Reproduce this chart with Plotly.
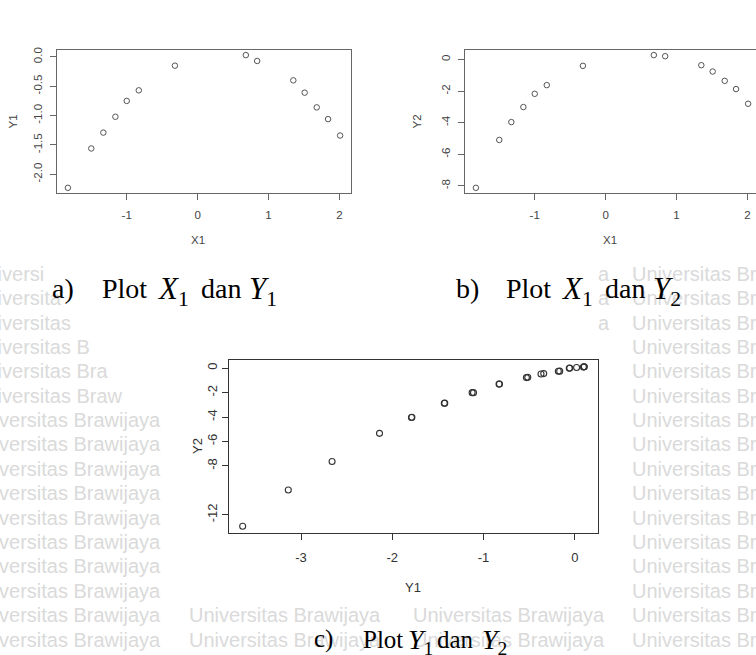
import plotly.graph_objects as go

# ---------------- data ----------------
x1_vals = [-1.83, -1.50, -1.33, -1.16, -1.00, -0.83, -0.32, 0.68, 0.84, 1.35, 1.51, 1.68, 1.84, 2.01]
y1_vals = [-2.23, -1.56, -1.29, -1.02, -0.75, -0.57, -0.15, 0.03, -0.07, -0.40, -0.61, -0.86, -1.06, -1.34]
y2_vals = [-8.12, -5.09, -3.96, -3.01, -2.17, -1.62, -0.40, 0.28, 0.21, -0.36, -0.76, -1.35, -1.87, -2.80]

c_y1 = [-3.64, -3.14, -2.66, -2.14, -1.79, -1.785, -1.43, -1.425, -1.125, -1.11,
        -0.83, -0.825, -0.53, -0.515, -0.37, -0.34, -0.18, -0.165, -0.06, -0.055,
        0.02, 0.095, 0.10, 0.105]
c_y2 = [-12.93, -9.97, -7.64, -5.33, -4.03, -4.02, -2.87, -2.86, -2.00, -2.00,
        -1.30, -1.29, -0.77, -0.75, -0.47, -0.44, -0.25, -0.24, 0.00, 0.01,
        0.06, 0.10, 0.11, 0.12]

ticks_x_ab = [-1, 0, 1, 2]
ticks_y_a = [0.0, -0.5, -1.0, -1.5, -2.0]
ticks_y_b = [0, -2, -4, -6, -8]
ticks_x_c = [-3, -2, -1, 0]
ticks_y_c = [0, -2, -4, -6, -8, -12]

W, H = 756, 655
def px(x): return x / W
def py(y): return 1 - y / H

def rrange(v):
    lo, hi = min(v), max(v)
    d = (hi - lo) * 0.04
    return [lo - d, hi + d]

fig = go.Figure()

mk_ab = dict(symbol="circle-open", size=5.5, color="#555555", line=dict(width=1))
mk_c = dict(symbol="circle-open", size=6, color="#333333", line=dict(width=1.1))

fig.add_trace(go.Scatter(x=x1_vals, y=y1_vals, mode="markers", marker=mk_ab,
                         xaxis="x", yaxis="y", showlegend=False))
fig.add_trace(go.Scatter(x=x1_vals, y=y2_vals, mode="markers", marker=mk_ab,
                         xaxis="x2", yaxis="y2", showlegend=False))
fig.add_trace(go.Scatter(x=c_y1, y=c_y2, mode="markers", marker=mk_c,
                         xaxis="x3", yaxis="y3", showlegend=False))

ab_font = dict(family="Liberation Sans, Arial", size=11.5, color="#444444")
c_font = dict(family="Liberation Sans, Arial", size=13, color="#333333")

def axstyle(font, color, lw, mirror=True):
    return dict(showline=True, linecolor=color, linewidth=lw, mirror=mirror,
                ticks="outside", ticklen=6, tickcolor=color, tickwidth=lw,
                showgrid=False, zeroline=False, tickfont=font)

# plot a
xa = rrange(x1_vals)
fig.update_layout(
    xaxis=dict(domain=[px(57), px(351)], range=xa, anchor="y",
               tickvals=ticks_x_ab, ticktext=[str(t) for t in ticks_x_ab],
               ticklabelstandoff=5, **axstyle(ab_font, "#666666", 1.2)),
    yaxis=dict(domain=[py(191), py(47)], range=rrange(y1_vals), anchor="x",
               tickvals=ticks_y_a, ticktext=[f"{t:.1f}" for t in ticks_y_a],
               tickangle=-90, ticklabelstandoff=3, **axstyle(ab_font, "#666666", 1.2)),
)
# plot b (right edge cut off by the page)
full_w = 351 - 57
vis_w = W - 465
xb = [xa[0], xa[0] + (xa[1] - xa[0]) * vis_w / full_w]
fig.update_layout(
    xaxis2=dict(domain=[px(465), 1], range=xb, anchor="y2",
                tickvals=ticks_x_ab, ticktext=[str(t) for t in ticks_x_ab],
                ticklabelstandoff=5, **axstyle(ab_font, "#666666", 1.2)),
    yaxis2=dict(domain=[py(191), py(47)], range=rrange(y2_vals), anchor="x2",
                tickvals=ticks_y_b, ticktext=[str(t) for t in ticks_y_b],
                tickangle=-90, ticklabelstandoff=3, **axstyle(ab_font, "#666666", 1.2, mirror=False)),
)
# plot c
fig.update_layout(
    xaxis3=dict(domain=[px(229), px(598)], range=rrange(c_y1), anchor="y3",
                tickvals=ticks_x_c, ticktext=[str(t) for t in ticks_x_c],
                ticklabelstandoff=7, **axstyle(c_font, "#333333", 1.1)),
    yaxis3=dict(domain=[py(532), py(359)], range=rrange(c_y2), anchor="x3",
                tickvals=ticks_y_c, ticktext=[str(t) for t in ticks_y_c],
                tickangle=-90, ticklabelstandoff=0, **axstyle(c_font, "#333333", 1.1)),
)

ann = []
# ---------- watermark (faint background text) ----------
wm = "Universitas Brawijaya"
wm_font = dict(family="Liberation Sans, Arial", size=20, color="#dadada")
rows = [272 + 24.5 * k for k in range(16)]
left_partial = ["Universi", "Universita", "Universitas", "Universitas B", "Universitas Bra", "Universitas Braw"]
for k, yy in enumerate(rows):
    if k < len(left_partial):
        ann.append(dict(x=px(-30), y=py(yy), text=left_partial[k], xanchor="left"))
    else:
        ann.append(dict(x=px(163), y=py(yy), text=wm, xanchor="right"))
    ann.append(dict(x=px(630), y=py(yy), text=wm, xanchor="left"))
for yy in rows[-2:]:
    ann.append(dict(x=px(187), y=py(yy), text=wm, xanchor="left"))
    ann.append(dict(x=px(607), y=py(yy), text=wm, xanchor="right"))
for yy in rows[:3]:
    ann.append(dict(x=px(612), y=py(yy), text="a", xanchor="right"))
for a in ann:
    a.update(xref="paper", yref="paper", yanchor="middle", showarrow=False, font=wm_font)

# ---------- axis titles ----------
def title(x, y, t, font, angle=0):
    ann.append(dict(x=px(x), y=py(y), text=t, xref="paper", yref="paper", showarrow=False,
                    xanchor="center", yanchor="middle", textangle=angle, font=font))
title(198, 238, "X1", ab_font)
title(13, 119, "Y1", ab_font, -90)
title(610, 238, "X1", ab_font)
title(417, 119, "Y2", ab_font, -90)
title(413, 587, "Y1", c_font)
title(198, 445, "Y2", c_font, -90)

# ---------- captions ----------
serif = "Liberation Serif, Times New Roman"
def piece(x, y, t, size):
    ann.append(dict(x=px(x), y=py(y), text=t, xref="paper", yref="paper", showarrow=False,
                    xanchor="left", yanchor="middle",
                    font=dict(family=serif, size=size, color="#000000")))

def caption(x0, y, label, v1, v2, size, offs):
    piece(x0 + offs[0], y, label, size)
    piece(x0 + offs[1], y, "Plot", size)
    piece(x0 + offs[2], y + 2, f"<i>{v1[0]}</i><sub>{v1[1]}</sub>", size + 3)
    piece(x0 + offs[3], y, "dan", size)
    piece(x0 + offs[4], y + 2, f"<i>{v2[0]}</i><sub>{v2[1]}</sub>", size + 3)

caption(0, 287, "a)", ("X", "1"), ("Y", "1"), 28, [50, 100, 155, 199, 247])
caption(404, 287, "b)", ("X", "1"), ("Y", "2"), 28, [50, 100, 155, 199, 247])
caption(0, 639, "c)", ("Y", "1"), ("Y", "2"), 25, [312, 361, 406, 435, 480])

fig.update_layout(width=W, height=H, margin=dict(l=0, r=0, t=0, b=0),
                  paper_bgcolor="white", plot_bgcolor="rgba(0,0,0,0)",
                  annotations=ann, showlegend=False)

fig.write_html("out.html")
